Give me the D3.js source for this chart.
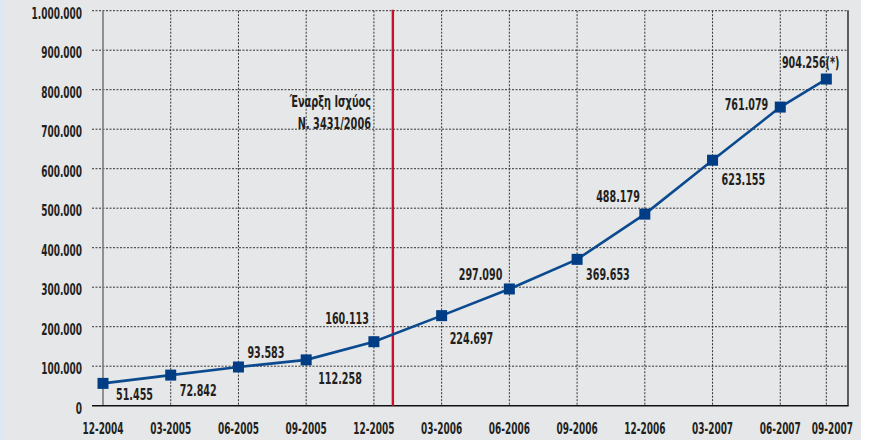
<!DOCTYPE html>
<html>
<head>
<meta charset="utf-8">
<script src="https://cdn.jsdelivr.net/npm/d3@7"></script>
<style>
  body { margin: 0; background: #fff; }
  text { font-family: "Liberation Sans Narrow", "DejaVu Sans Condensed", sans-serif; font-weight: bold; fill: #231f20; }
</style>
</head>
<body>
<div id="chart"></div>
<script>
// data
const periods = ["12-2004", "03-2005", "06-2005", "09-2005", "12-2005", "03-2006",
                 "06-2006", "09-2006", "12-2006", "03-2007", "06-2007", "09-2007"];
// position along the quarter axis (last period is not a full quarter)
const periodPos = [0, 1, 2, 3, 4, 5, 6, 7, 8, 9, 10, 10.68];
// plotted height of each marker
const plotted = [56500, 77500, 98000, 116000, 162000, 228000, 295500, 370500, 485000, 621500, 756000, 827000];
const valueLabels = ["51.455", "72.842", "93.583", "112.258", "160.113", "224.697",
                     "297.090", "369.653", "488.179", "623.155", "761.079", "904.256(*)"];
const yTicks = [0, 100000, 200000, 300000, 400000, 500000, 600000, 700000, 800000, 900000, 1000000];
const lawPos = 4.28; // Έναρξη Ισχύος Ν. 3431/2006
const lawText = ["Έναρξη Ισχύος", "Ν. 3431/2006"];

const W = 888, H = 440;
const plotLeft = 103, plotRight = 848, plotTop = 10.7, plotBottom = 405.7;

const svg = d3.select("#chart").append("svg")
    .attr("width", W)
    .attr("height", H);

// page background
svg.append("rect").attr("x", 0).attr("y", 0).attr("width", 4).attr("height", H).attr("fill", "#dde7f1");
svg.append("rect").attr("x", 4).attr("y", 0).attr("width", 857).attr("height", H).attr("fill", "#e6e7e8");

const x = d3.scaleLinear().domain([0, 11]).range([plotLeft, plotRight]);
const y = d3.scaleLinear().domain([0, 1000000]).range([plotBottom, plotTop]);

const locale = d3.formatLocale({ decimal: ",", thousands: ".", grouping: [3], currency: ["", ""] });
const fmt = locale.format(",d");

// the original uses a condensed face; squeeze ours to the same width
const probe = svg.append("text").style("font-size", "14px").text("1.000.000");
const probeW = probe.node().getComputedTextLength();
probe.remove();
const squeeze14 = Math.min(1, 50.5 / probeW);
const sq = size => squeeze14 * 14 / size;

function labels(data, fx, fy, anchor, size, s) {
    return svg.append("g").selectAll("text")
        .data(data)
        .enter().append("text")
        .attr("transform", (d, i) => `translate(${fx(d, i)},${fy(d, i)}) scale(${s},1)`)
        .attr("text-anchor", typeof anchor === "function" ? anchor : () => anchor)
        .style("font-size", size + "px")
        .text(d => d);
}

// horizontal grid
svg.append("g").selectAll("line")
    .data(yTicks.filter(d => d > 0))
    .enter().append("line")
    .attr("x1", 92).attr("x2", plotRight)
    .attr("y1", d => y(d)).attr("y2", d => y(d))
    .attr("stroke", "#333").attr("stroke-width", 1)
    .attr("stroke-dasharray", "2,1.5");

// vertical grid
svg.append("g").selectAll("line")
    .data(periodPos.slice(1))
    .enter().append("line")
    .attr("x1", d => x(d)).attr("x2", d => x(d))
    .attr("y1", plotTop).attr("y2", plotBottom)
    .attr("stroke", "#333").attr("stroke-width", 1)
    .attr("stroke-dasharray", "2,1.5");

// y axis line (grey) and frame
svg.append("line")
    .attr("x1", plotLeft).attr("x2", plotLeft).attr("y1", plotTop).attr("y2", plotBottom)
    .attr("stroke", "#7a7a7a").attr("stroke-width", 1.6);
svg.append("line")
    .attr("x1", plotRight).attr("x2", plotRight).attr("y1", plotTop - 0.5).attr("y2", plotBottom)
    .attr("stroke", "#111").attr("stroke-width", 1.3);
svg.append("line")
    .attr("x1", 92).attr("x2", plotRight + 0.6).attr("y1", plotBottom).attr("y2", plotBottom)
    .attr("stroke", "#111").attr("stroke-width", 1.6);

// y tick labels
labels(yTicks.map(fmt), () => 82, (d, i) => y(yTicks[i]) + 8, "end", 15, sq(15));

// x tick labels (the last one sits a little right of its gridline)
labels(periods, (d, i) => x(periodPos[i]) + (i === periods.length - 1 ? 6 : 0), () => 434, "middle", 15.5, sq(15.5));

// law start marker
svg.append("line")
    .attr("x1", x(lawPos)).attr("x2", x(lawPos))
    .attr("y1", plotTop - 1).attr("y2", plotBottom)
    .attr("stroke", "#c8102e").attr("stroke-width", 2.4);

labels(lawText, () => 371, (d, i) => 106.8 + i * 22.6, "end", 15, sq(15) * 1.09);

// series
const pts = plotted.map((v, i) => [x(periodPos[i]), y(v)]);

svg.append("path")
    .attr("d", d3.line()(pts))
    .attr("fill", "none")
    .attr("stroke", "#0b4a8f")
    .attr("stroke-width", 2.6);

const m = 11;
svg.append("g").selectAll("rect")
    .data(pts)
    .enter().append("rect")
    .attr("x", d => d[0] - m / 2)
    .attr("y", d => d[1] - m / 2)
    .attr("width", m).attr("height", m)
    .attr("fill", "#003d84");

// label placement: [anchor, dx, dy]
const place = [
    ["start", 13, 17], ["start", 9, 21], ["start", 9, -9], ["start", 12, 24],
    ["end", -5, -18], ["start", 8, 28], ["end", -7, -9], ["start", 9, 21],
    ["end", -5, -12], ["start", 9, 25], ["end", -12, 3], ["end", 13, -11]
];

labels(valueLabels,
    (d, i) => pts[i][0] + place[i][1],
    (d, i) => pts[i][1] + place[i][2],
    (d, i) => place[i][0], 16, sq(16) * 1.07);
</script>
</body>
</html>
